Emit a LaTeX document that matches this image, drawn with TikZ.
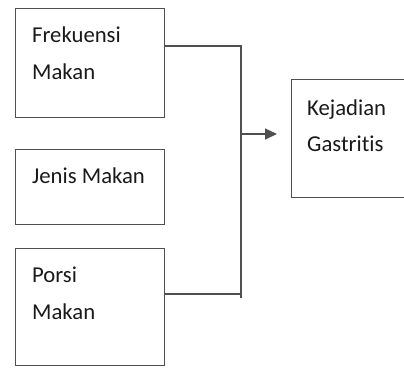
\documentclass[tikz,border=0pt]{standalone}
\usepackage{fontspec}
\setmainfont[Ligatures={NoCommon}]{Carlito}
\usetikzlibrary{arrows.meta,calc}
\definecolor{linegray}{HTML}{505050}
\definecolor{txt}{HTML}{1A1A1A}
\tikzset{
  box/.style={draw=linegray, line width=1.4pt, rectangle, inner sep=0pt, anchor=north west},
  lbl/.style={anchor=base west, inner sep=0pt, text=txt, font=\fontsize{22.7}{26}\selectfont},
  conn/.style={draw=linegray, line width=1.4pt},
}
\begin{document}
\begin{tikzpicture}[x=1pt,y=-1pt]
\useasboundingbox[fill=white] (0,0) rectangle (404,367);
\node[box, minimum width=149pt, minimum height=109pt] (b1) at (15,8) {};
\node[box, minimum width=149pt, minimum height=75pt] (b2) at (15,149) {};
\node[box, minimum width=149pt, minimum height=117pt] (b3) at (15,248) {};
\node[box, minimum width=116pt, minimum height=118pt] (r) at (291,79) {};
\node[lbl] (t1a) at (32,42) {Frekuensi};
\node[lbl] (t1b) at (32,79) {Makan};
\node[lbl] (t2) at (32,183) {Jenis Makan};
\node[lbl] (t3a) at (32,282) {Porsi};
\node[lbl] (t3b) at (32,319) {Makan};
\node[lbl] (tra) at (307,115) {Kejadian};
\node[lbl] (trb) at (307,151) {Gastritis};
\coordinate (jt) at (241,46);
\coordinate (jb) at (241,298);
\coordinate (jm) at (241,134);
\draw[conn] ($(b1.north east)+(0,38)$) -- (jt) -- (jb);
\draw[conn] ($(b3.north east)+(0,46)$) -- (241,294);
\draw[conn, -{Triangle[length=12pt,width=11pt]}] (jm) -- ($(r.north west)+(-14,55)$);
\end{tikzpicture}
\end{document}
